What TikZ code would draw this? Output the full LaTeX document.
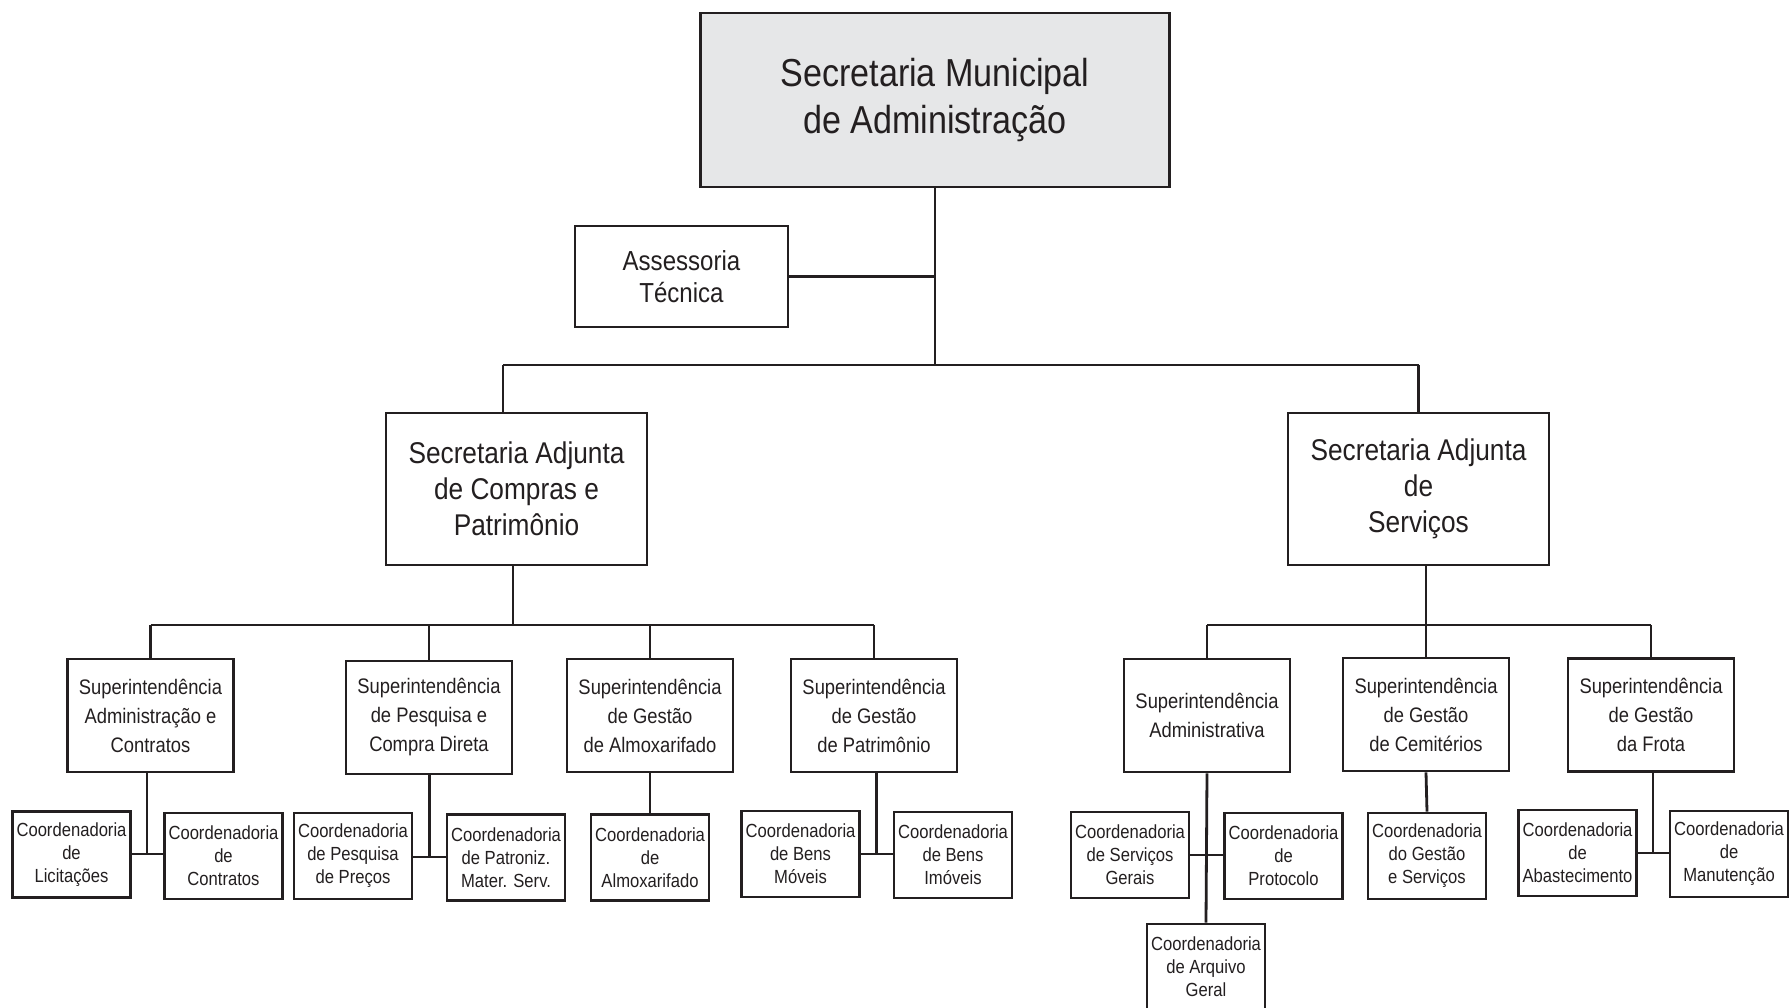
\documentclass[tikz,border=0pt]{standalone}
\usepackage{fontspec}
\setmainfont{Liberation Sans}[FakeStretch=0.875]

\definecolor{ink}{HTML}{231F20}
\definecolor{boxgray}{HTML}{E6E7E8}

\tikzset{
    orgbox/.style={draw=ink, line width=2.8pt, inner sep=0pt, align=center, text=ink},
    topbox/.style={orgbox, fill=boxgray, minimum width=469, minimum height=174, font=\fontsize{39}{47}\selectfont},
    assbox/.style={orgbox, minimum width=213, minimum height=101, font=\fontsize{27.5}{32}\selectfont},
    adjbox/.style={orgbox, minimum width=261, minimum height=152, font=\fontsize{30}{36}\selectfont},
    supbox/.style={orgbox, minimum width=166, minimum height=113, font=\fontsize{21}{29}\selectfont},
    coordbox/.style={orgbox, minimum width=118, minimum height=86, font=\fontsize{19}{23}\selectfont},
    link/.style={draw=ink, line width=2.8pt}
}

\begin{document}
\begin{tikzpicture}[x=1pt, y=-1pt]

    % Page frame, same proportions as the reference
    \useasboundingbox[fill=white] (0,0) rectangle (1789,1007);

    % Top level
    \node[topbox] (top) at (935,100) {Secretaria Municipal\\de Administração};
    \node[assbox] (asses) at (681.5,276.5) {Assessoria\\Técnica};

    % Secretarias adjuntas
    \node[adjbox] (adjcomp) at (516.5,489) {Secretaria Adjunta\\de Compras e\\Patrimônio};
    \node[adjbox] (adjserv) at (1418.5,489) {Secretaria Adjunta\\de\\Serviços};

    % Superintendencias, left side
    \node[supbox] (supadm) at (150.5,715.5) {Superintendência\\Administração e\\Contratos};
    \node[supbox] (suppesq) at (429,717.5) {Superintendência\\de Pesquisa e\\Compra Direta};
    \node[supbox] (supalmox) at (650,715.5) {Superintendência\\de Gestão\\de Almoxarifado};
    \node[supbox] (suppatr) at (874,715.5) {Superintendência\\de Gestão\\de Patrimônio};

    % Superintendencias, right side
    \node[supbox] (supadmin) at (1207,715.5) {Superintendência\\Administrativa};
    \node[supbox] (supcemit) at (1426,714.5) {Superintendência\\de Gestão\\de Cemitérios};
    \node[supbox] (supfrota) at (1651,715) {Superintendência\\de Gestão\\da Frota};

    % Coordenadorias
    \node[coordbox] (coordlic) at (71.5,854.5) {Coordenadoria\\de\\Licitações};
    \node[coordbox] (coordcont) at (223.5,856) {Coordenadoria\\de\\Contratos};
    \node[coordbox] (coordprec) at (353,856) {Coordenadoria\\de Pesquisa\\de Preços};
    \node[coordbox] (coordpadr) at (506,857.5) {Coordenadoria\\de Patroniz.\\Mater. Serv.};
    \node[coordbox] (coordalmox) at (650,857.5) {Coordenadoria\\de\\Almoxarifado};
    \node[coordbox] (coordmov) at (800.5,854) {Coordenadoria\\de Bens\\Móveis};
    \node[coordbox] (coordimov) at (953,855) {Coordenadoria\\de Bens\\Imóveis};
    \node[coordbox] (coordgerais) at (1130,855) {Coordenadoria\\de Serviços\\Gerais};
    \node[coordbox] (coordprot) at (1283.5,856) {Coordenadoria\\de\\Protocolo};
    \node[coordbox] (coordarq) at (1206,967) {Coordenadoria\\de Arquivo\\Geral};
    \node[coordbox] (coordgest) at (1427,856) {Coordenadoria\\do Gestão\\e Serviços};
    \node[coordbox] (coordabast) at (1577.5,853) {Coordenadoria\\de\\Abastecimento};
    \node[coordbox] (coordmanut) at (1729,854) {Coordenadoria\\de\\Manutenção};

    % Bus points
    \coordinate (busmid) at (935,365);
    \coordinate (busL) at (503,365);
    \coordinate (busR) at (1418.5,365);
    \coordinate (jcomp) at (513,625);
    \coordinate (jserv) at (1426,625);

    % Junctions between paired coordenadorias
    \coordinate (jadm) at (147,854);
    \coordinate (jpesq) at (429.5,857);
    \coordinate (jpatr) at (876.5,854);
    \coordinate (jadmin) at (1207,855);
    \coordinate (jfrota) at (1653,853);

    % Top connectors
    \draw[link] (top) -- (busmid);
    \draw[link] (asses.east) -- (asses.east -| busmid);
    \draw[link] (busL) -- (busR);
    \draw[link] (busL) -- (busL |- adjcomp.north);
    \draw[link] (busR) -- (adjserv.north);

    % Second level buses
    \draw[link] (jcomp |- adjcomp.south) -- (jcomp);
    \draw[link] (supadm.north |- jcomp) -- (suppatr.north |- jcomp);
    \foreach \s in {supadm,suppesq,supalmox,suppatr}
        \draw[link] (\s.north) -- (\s.north |- jcomp);
    \draw[link] (jserv |- adjserv.south) -- (jserv);
    \draw[link] (supadmin.north |- jserv) -- (supfrota.north |- jserv);
    \foreach \s in {supadmin,supcemit,supfrota}
        \draw[link] (\s.north) -- (\s.north |- jserv);

    % Coordenadoria connectors
    \draw[link] (jadm |- supadm.south) -- (jadm);
    \draw[link] (coordlic.east |- jadm) -- (coordcont.west |- jadm);
    \draw[link] (jpesq |- suppesq.south) -- (jpesq);
    \draw[link] (coordprec.east |- jpesq) -- (coordpadr.west |- jpesq);
    \draw[link] (supalmox.south) -- (coordalmox.north);
    \draw[link] (jpatr |- suppatr.south) -- (jpatr);
    \draw[link] (coordmov.east |- jpatr) -- (coordimov.west |- jpatr);
    \draw[link] (supadmin.south) -- (coordarq.north);
    \draw[link] (coordgerais.east |- jadmin) -- (coordprot.west |- jadmin);
    \draw[link] (supcemit.south) -- (coordgest.north);
    \draw[link] (jfrota |- supfrota.south) -- (jfrota);
    \draw[link] (coordabast.east |- jfrota) -- (coordmanut.west |- jfrota);

\end{tikzpicture}
\end{document}
